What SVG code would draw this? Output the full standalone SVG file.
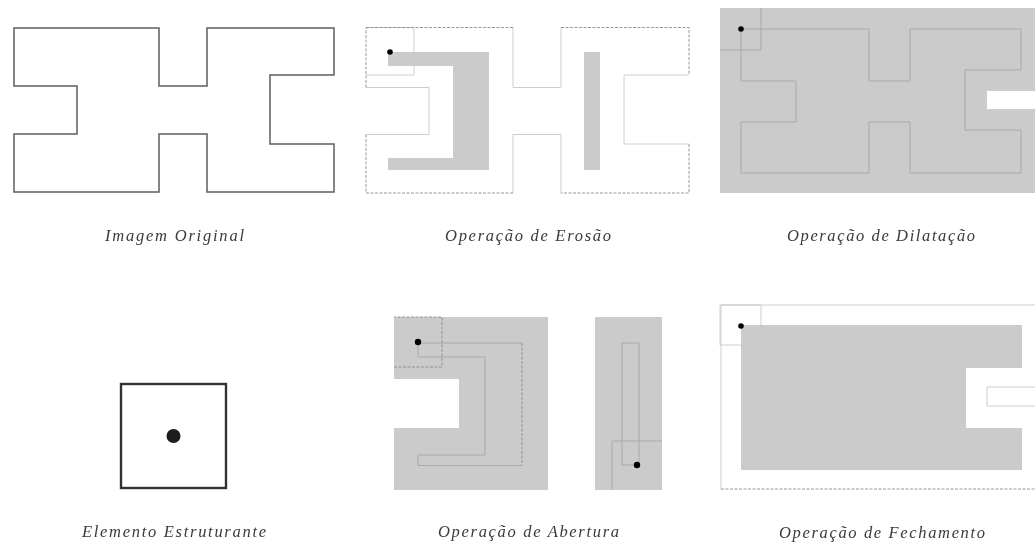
<svg xmlns="http://www.w3.org/2000/svg" width="1035" height="544" viewBox="0 0 1035 544">
  <defs>
    <filter id="soft" x="-5%" y="-5%" width="110%" height="110%">
      <feGaussianBlur stdDeviation="0.5"/>
    </filter>
  </defs>
  <style>
    g { filter: url(#soft); }
    .solid { fill: none; stroke: #5e5e5e; stroke-width: 1.5; }
    .fill { fill: #cbcbcb; stroke: none; }
    .gap { fill: #ffffff; stroke: none; }
    .outer { fill: none; stroke: #8c8c8c; stroke-width: 0.9; stroke-dasharray: 3 1.500; }
    .inner { fill: none; stroke: #c8c8c8; stroke-width: 0.9; }
    .onfill { fill: none; stroke: #a6a6a6; stroke-width: 0.9; }
    .onfilldark { fill: none; stroke: #8c8c8c; stroke-width: 0.9; stroke-dasharray: 3 1.500; }
    .pin { fill: #000000; }
    text { font-family: "Liberation Serif", "Times New Roman", serif; font-style: italic; font-size: 16.500px; fill: #3a3a3a; }
  </style>

  <g id="imagem-original">
    <path class="solid" d="M14 28H159V86H207V28H334V75H270V144H334V192H207V134H159V192H14V134H77V86H14Z"/>
    <text x="105" y="241" textLength="139" lengthAdjust="spacing">Imagem Original</text>
  </g>

  <g id="operacao-erosao">
    <path class="fill" d="M388 52H489V170H388V158H453V66H388Z"/>
    <rect class="fill" x="584" y="52" width="16" height="118"/>
    <path class="inner" d="M513 27.500V87.500H561V27.500M689 75H624V144H689M561 193V134.500H513V193M366 134.500H429V87.500H366M366 27.500H414V75H366"/>
    <path class="outer" d="M366 27.500H513M561 27.500H689V75M689 144V193H561M513 193H366V134.500M366 87.500V27.500"/>
    <circle class="pin" cx="390" cy="52" r="2.800"/>
    <text x="445" y="241" textLength="166" lengthAdjust="spacing">Operação de Erosão</text>
  </g>

  <g id="operacao-dilatacao">
    <rect class="fill" x="720" y="8" width="315" height="185"/>
    <rect class="gap" x="987" y="91" width="48" height="18"/>
    <path class="onfill" d="M741 29H869V81H910V29H1021V70H965V130H1021V173H910V122H869V173H741V122H796V81H741Z"/>
    <path class="onfill" d="M761 8V50H720"/>
    <circle class="pin" cx="741" cy="29" r="2.800"/>
    <text x="787" y="241" textLength="188" lengthAdjust="spacing">Operação de Dilatação</text>
  </g>

  <g id="elemento-estruturante">
    <rect x="121" y="384" width="105" height="104" fill="none" stroke="#333333" stroke-width="2.400"/>
    <circle cx="173.500" cy="436" r="7" fill="#1a1a1a"/>
    <text x="82" y="537" textLength="184" lengthAdjust="spacing">Elemento Estruturante</text>
  </g>

  <g id="operacao-abertura">
    <path class="fill" d="M394 317H548V490H394V428H459V379H394Z"/>
    <rect class="fill" x="595" y="317" width="67" height="173"/>
    <path class="onfill" d="M418 343H522M522 465.500H418V455H485V357H418V343"/>
    <path class="onfilldark" d="M522 343V465.500M394 367H442V317H394"/>
    <path class="onfill" d="M622 465V343H639V465H622M612 490V441H662"/>
    <circle class="pin" cx="418" cy="342" r="3.200"/>
    <circle class="pin" cx="637" cy="465" r="3.200"/>
    <text x="438" y="537" textLength="181" lengthAdjust="spacing">Operação de Abertura</text>
  </g>

  <g id="operacao-fechamento">
    <path class="fill" d="M741 325H1022V368H966V428H1022V470H741Z"/>
    <path class="inner" d="M1035 305H721V489"/>
    <path class="outer" d="M721 489H1035"/>
    <path class="inner" d="M1035 387H987V406H1035"/>
    <path class="inner" d="M720 305H761V345H720Z"/>
    <circle class="pin" cx="741" cy="326" r="2.800"/>
    <text x="779" y="538" textLength="206" lengthAdjust="spacing">Operação de Fechamento</text>
  </g>
</svg>
